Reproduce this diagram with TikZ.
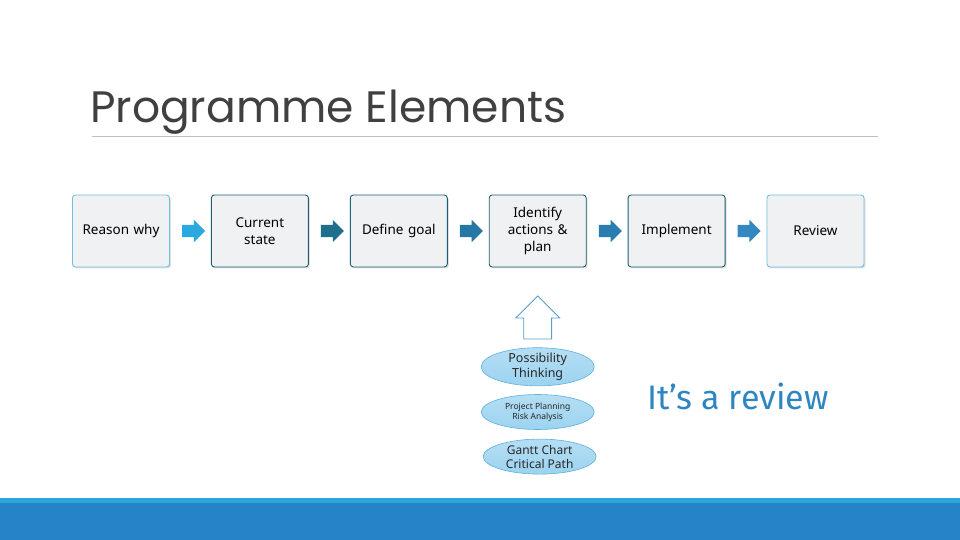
\documentclass[tikz,border=0pt]{standalone}
\usepackage{fontspec}
\setmainfont{Noto Sans}
\newfontfamily\titlefont{Poppins}
\newfontfamily\handfont{Fira Sans}
\usetikzlibrary{positioning,calc,shapes.geometric,shapes.arrows,shadows}

\definecolor{boxfill}{HTML}{F0F1F2}
\definecolor{edgedark}{HTML}{1E5F78}
\definecolor{edgelight}{HTML}{6FC0E0}
\definecolor{barlight}{HTML}{2AA6DC}
\definecolor{bardark}{HTML}{2683C6}
\definecolor{ellfill}{HTML}{9CD3F0}
\definecolor{elledge}{HTML}{5FB0DD}
\definecolor{handblue}{HTML}{2E86C1}
\definecolor{arrowA}{HTML}{29A9DF}
\definecolor{arrowB}{HTML}{1F6E8C}
\definecolor{arrowC}{HTML}{2677A3}
\definecolor{arrowD}{HTML}{2A7EAF}
\definecolor{arrowE}{HTML}{3389BF}

\tikzset{
  stepbox/.style={rectangle, rounded corners=3pt, draw=edgedark, line width=0.9pt,
    fill=boxfill, minimum width=97pt, minimum height=72pt, inner sep=2pt,
    text width=84pt, align=center, font=\fontsize{13.5}{17}\selectfont,
    drop shadow={shadow xshift=1.5pt, shadow yshift=-1.5pt, opacity=0.25}},
  flowarrow/.style={single arrow, draw=none, inner xsep=0pt, inner ysep=6pt,
    minimum height=23pt, single arrow head extend=5pt, single arrow head indent=0pt},
  ideabubble/.style={ellipse, draw=elledge, line width=0.6pt,
    top color=ellfill!75!white, bottom color=ellfill, minimum width=113pt,
    minimum height=35pt, inner sep=0pt, align=center, text=black!85}
}

\begin{document}
\begin{tikzpicture}[x=1pt, y=1pt]

    \useasboundingbox (0,0) rectangle (960,540);

    % Title
    \node[anchor=base west, inner sep=0pt, text=black!75] (title) at (90,417)
      {\titlefont\fontsize{44}{50}\selectfont Programme Elements}; %
    \draw[black!25, line width=0.8pt] (92,404) -- (878,404);

    % Define nodes
    \node[stepbox, draw=edgelight]           (reason) at (121,309) {Reason why}; %
    \node[stepbox, right=41pt of reason]     (current){Current\\state}; %
    \node[stepbox, right=41pt of current]    (goal){Define goal}; %
    \node[stepbox, right=41pt of goal]       (identify){Identify\\actions \&\\plan}; %
    \node[stepbox, right=41pt of identify]   (implement){Implement}; %
    \node[stepbox, draw=edgelight, right=41pt of implement] (review){Review}; %

    % Arrows between the steps
    \foreach \from/\to/\col in {reason/current/arrowA, current/goal/arrowB,
        goal/identify/arrowC, identify/implement/arrowD, implement/review/arrowE}
      \node[flowarrow, fill=\col] at ($(\from.east)!0.5!(\to.west)$) {}; %

    % Supporting ideas
    \node[single arrow, draw=handblue!80, fill=white, line width=0.8pt, rotate=90,
      anchor=tip, inner xsep=0pt, inner ysep=13.5pt, minimum height=43pt,
      single arrow head extend=8pt, single arrow head indent=0pt]
      (lift) at ($(identify.south)+(0,-28)$) {}; %
    \node[ideabubble, font=\fontsize{12.5}{14.5}\selectfont, below=8pt of lift.west]
      (possibility){Possibility\\Thinking}; %
    \node[ideabubble, font=\fontsize{8.5}{10}\selectfont, below=8pt of possibility]
      (planning){Project Planning\\Risk Analysis}; %
    \node[ideabubble, font=\fontsize{12}{14}\selectfont, below=9pt of planning, xshift=2pt]
      (gantt){Gantt Chart\\Critical Path}; %

    % Remark
    \node[text=handblue, inner sep=0pt] (remark) at (738,144)
      {\handfont\fontsize{34}{40}\selectfont It’s a review}; %

    % Footer band
    \fill[barlight] (0,37) rectangle (960,42);
    \fill[bardark] (0,0) rectangle (960,37);

  \end{tikzpicture}
\end{document}
